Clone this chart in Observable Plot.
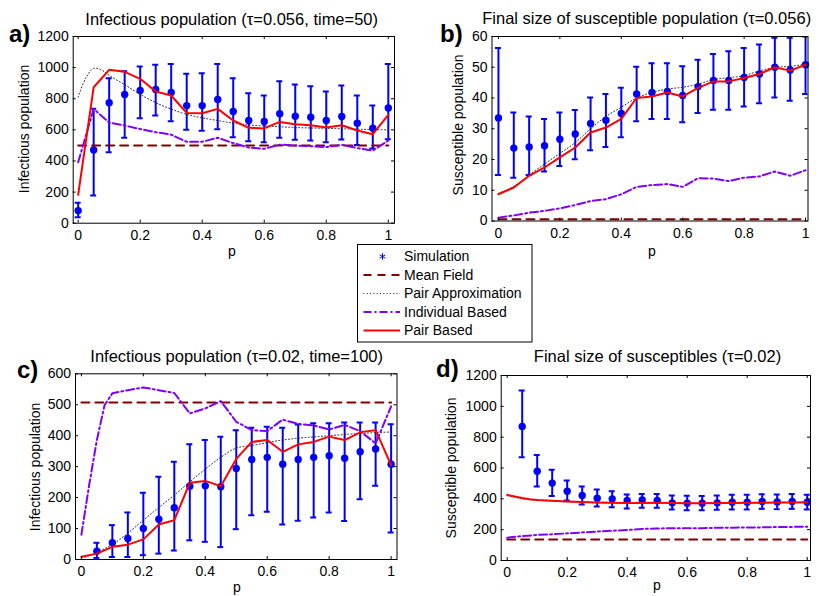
<!DOCTYPE html>
<html><head><meta charset="utf-8">
<script src="https://cdn.jsdelivr.net/npm/d3@7"></script>
<script src="https://cdn.jsdelivr.net/npm/@observablehq/plot@0.6"></script>
<style>
body{margin:0;background:#fff;}
#page{position:relative;width:819px;height:596px;overflow:hidden;background:#fff;font-family:"Liberation Sans",Arial,Helvetica,sans-serif;color:#000;}
.panel{position:absolute;}
.t{position:absolute;white-space:nowrap;line-height:1;}
</style></head>
<body><div id="page"></div>
<script>
// ---------- data ----------
const pVals = [0,0.05,0.1,0.15,0.2,0.25,0.3,0.35,0.4,0.45,0.5,0.55,0.6,0.65,0.7,0.75,0.8,0.85,0.9,0.95,1];
const pFine = [0,0.025,0.05,0.075,0.1,0.15,0.2,0.25,0.3,0.35,0.4,0.45,0.5,0.55,0.6,0.65,0.7,0.75,0.8,0.85,0.9,0.95,1];
const pEnds = [0,1];
const xTicks = [0,0.2,0.4,0.6,0.8,1];

// a) Infectious population (tau=0.056, time=50)
const simA = [81,471,774,827,853,859,840,756,756,795,718,660,654,703,688,681,660,686,643,611,741];
const simALo = [39,178,456,549,675,692,656,600,594,604,553,527,521,549,536,531,521,538,503,480,540];
const simAHi = [131,735,932,977,1007,1018,1024,960,964,1024,932,836,821,913,891,881,846,885,821,756,1024];
const meanFieldA = [500,500];
const pairApproxA = [810,935,995,985,950,890,828,775,733,700,677,660,643,632,625,620,615,612,610,607,604,602,600];
const individualA = [392,735,646,628,605,585,569,523,523,549,515,486,478,505,499,495,489,504,483,467,531];
const pairBasedA = [182,874,986,973,928,846,821,709,707,735,660,613,609,651,636,630,615,630,596,572,696];
const yTicksA = [0,200,400,600,800,1000,1200];

// b) Final size of susceptible population (tau=0.056)
const simB = [33.5,23.7,24.1,24.5,26.6,28.3,31.7,32.8,35,41.3,41.8,42.1,40.8,43.7,45.7,45.7,46.7,47.8,50,49.1,50.8];
const simBLo = [15,14.1,15,16.1,17.9,20.1,23,24.1,27.2,32.4,33.2,33.2,32.1,35.1,36.2,36.2,37.2,38.3,40.2,39.1,41.3];
const simBHi = [56.3,35.3,34,33.2,35.3,36.1,40.2,41.3,43.3,50.2,51.3,51.3,50.3,52.4,54.3,55.2,56.3,57.4,59.6,59.6,60];
const meanFieldB = [0.6,0.6];
const pairApproxB = [9,10,11.3,13,15,18.5,22,25.5,30,34,37,40,41.8,42.9,43.5,44.5,46,46.6,47.3,48.8,50,50.3,51];
const individualB = [1.1,1.8,2.7,3.3,4.1,5.2,6.5,7.1,8.7,11.1,11.7,12,11.1,13.9,13.8,13,14.1,14.5,16.1,14.7,16.5];
const pairBasedB = [8.7,10.9,14.7,17.4,20.7,23.9,28.8,30.4,33.2,40,40.5,41.8,40.5,43.3,45.4,45.4,46.5,47.8,50,48.9,50.8];
const yTicksB = [0,10,20,30,40,50,60];

// c) Infectious population (tau=0.02, time=100)
const simC = [null,27,54,68,100,130,167,237,238,235,294,323,330,308,323,330,335,327,348,357,308];
const simCLo = [null,5,8,8,14,19,29,62,57,40,98,143,154,113,125,136,152,124,195,238,87];
const simCHi = [null,54,111,152,216,267,316,372,386,397,418,426,429,426,436,440,440,443,443,443,437];
const meanFieldC = [507,507];
const pairApproxC = [5,12,22,35,48,85,127,168,208,251,292,330,360,368,378,386,392,396,400,404,407,410,412];
const individualC = [80,240,386,499,537,547,556,547,538,472,488,512,445,418,415,452,438,433,420,435,415,375,495];
const pairBasedC = [9,19,41,48,65,113,127,248,254,237,325,380,386,348,372,380,397,386,411,418,305];
const yTicksC = [0,100,200,300,400,500,600];

// d) Final size of susceptibles (tau=0.02)
const simD = [null,869,579,502,450,422,404,400,389,393,389,374,372,372,374,378,378,383,380,383,378];
const simDLo = [null,670,480,419,389,363,350,346,337,342,342,331,326,326,329,331,331,335,333,335,331];
const simDHi = [null,1103,685,588,519,480,461,450,428,432,432,422,420,418,421,426,426,430,428,431,426];
const meanFieldD = [137,137];
const pairApproxD = [420,410,400,394,390,385,380,377,374,372,371,371,371,371,371,371,372,372,373,374,375,376,377];
const individualD = [148,158,166,170,176,182,188,193,198,205,208,209,210,210,212,213,214,215,217,218,219];
const pairBasedD = [426,415,405,398,393,388,383,380,377,375,373,373,374,373,372,372,373,373,374,375,376,377,378];
const yTicksD = [0,200,400,600,800,1000,1200];

const legendLabels = ["Simulation","Mean Field","Pair Approximation","Individual Based","Pair Based"];

// ---------- styles ----------
const BLUE="#0000ff", DARKRED="#800000", PURPLE="#7f00ff", RED="#ff0000", DOTTED="#222";
const FONT = '"Liberation Sans", Arial, Helvetica, sans-serif';
const page = document.getElementById("page");

function series(ps, vs){ return ps.map((p,i)=>({p, v: vs[i]})); }

function panel(cfg){
  const {left, top, W, H, ml, mr, mt, mb, xd, yd, yt, sim, lo, hi, mf, pa, pap, ib, ibp, pb, pbp} = cfg;
  const fw = W-ml-mr, fh = H-mt-mb;
  const simRows = pVals.map((p,i)=>({p, m: sim[i], lo: lo[i], hi: hi[i]})).filter(d=>d.m!=null);
  const fig = Plot.plot({
    width: W, height: H, marginLeft: ml, marginRight: mr, marginTop: mt, marginBottom: mb,
    x: {domain: xd}, y: {domain: yd},
    style: {fontFamily: FONT, fontSize: "14px", background: "transparent", color: "#000", overflow: "visible"},
    marks: [
      Plot.ruleX(simRows, {x:"p", y1:"lo", y2:"hi", stroke: BLUE, strokeWidth: 2, clip: true}),
      Plot.ruleY(simRows, {y:"lo", x1:"p", x2:"p", insetLeft:-3, insetRight:-3, stroke: BLUE, strokeWidth: 2, clip: true}),
      Plot.ruleY(simRows, {y:"hi", x1:"p", x2:"p", insetLeft:-3, insetRight:-3, stroke: BLUE, strokeWidth: 2, clip: true}),
      Plot.dot(simRows, {x:"p", y:"m", r:3.7, fill: BLUE}),
      Plot.line(series(pEnds, mf), {x:"p", y:"v", stroke: DARKRED, strokeWidth: 2, strokeDasharray: "8,6"}),
      Plot.line(series(pap, pa), {x:"p", y:"v", stroke: DOTTED, strokeWidth: 1, strokeDasharray: "1,2.3", curve: "catmull-rom"}),
      Plot.line(series(ibp, ib), {x:"p", y:"v", stroke: PURPLE, strokeWidth: 2, strokeDasharray: "8,3,2,3"}),
      Plot.line(series(pbp, pb), {x:"p", y:"v", stroke: RED, strokeWidth: 2}),
      Plot.tickX(xTicks, {x: d=>d, insetTop: fh-3, stroke: "#000"}),
      Plot.tickX(xTicks, {x: d=>d, insetBottom: fh-3, stroke: "#000"}),
      Plot.tickY(yt, {y: d=>d, insetRight: fw-3, stroke: "#000"}),
      Plot.tickY(yt, {y: d=>d, insetLeft: fw-3, stroke: "#000"}),
      Plot.axisX({ticks: xTicks, tickSize: 0, tickPadding: 7, label: null, tickFormat: d=>String(d)}),
      Plot.axisY({ticks: yt, tickSize: 0, tickPadding: 4.5, label: null, tickFormat: d=>String(d)}),
      Plot.frame({stroke: "#000", strokeWidth: 1})
    ]
  });
  fig.classList.add("panel");
  fig.style.left = left+"px"; fig.style.top = top+"px";
  page.appendChild(fig);
}

panel({left:0, top:0, W:410, H:265, ml:72.7, mr:16, mt:36, mb:42.3, xd:[-0.016,1.02], yd:[0,1200], yt:yTicksA,
  sim:simA, lo:simALo, hi:simAHi, mf:meanFieldA, pa:pairApproxA, pap:pFine, ib:individualA, ibp:pVals, pb:pairBasedA, pbp:pVals});
panel({left:410, top:0, W:409, H:265, ml:81.5, mr:11.5, mt:36, mb:44.5, xd:[-0.021,1.008], yd:[0,60], yt:yTicksB,
  sim:simB, lo:simBLo, hi:simBHi, mf:meanFieldB, pa:pairApproxB, pap:pFine, ib:individualB, ibp:pVals, pb:pairBasedB, pbp:pVals});
panel({left:0, top:330, W:410, H:266, ml:75, mr:13.5, mt:43.3, mb:37, xd:[-0.019,1.019], yd:[0,600], yt:yTicksC,
  sim:simC, lo:simCLo, hi:simCHi, mf:meanFieldC, pa:pairApproxC, pap:pFine, ib:individualC, ibp:pFine, pb:pairBasedC, pbp:pVals});
panel({left:410, top:330, W:409, H:266, ml:90.7, mr:9, mt:45, mb:36, xd:[-0.02,1.011], yd:[0,1200], yt:yTicksD,
  sim:simD, lo:simDLo, hi:simDHi, mf:meanFieldD, pa:pairApproxD, pap:pFine, ib:individualD, ibp:pVals, pb:pairBasedD, pbp:pFine});

// ---------- texts ----------
function addText(txt, x, y, {size=14, weight="normal", anchor="middle", rotate=0}={}){
  const d = document.createElement("div");
  d.className = "t";
  d.textContent = txt;
  d.style.fontSize = size+"px";
  d.style.fontWeight = weight;
  d.style.left = x+"px"; d.style.top = y+"px";
  const tx = anchor==="middle" ? "-50%" : "0";
  d.style.transform = `translate(${tx},-50%)`;
  if (rotate) d.style.transform = `translate(-50%,-50%) rotate(${rotate}deg)`;
  page.appendChild(d);
}
// titles
addText("Infectious population (\u03c4=0.056, time=50)", 231.7, 18.5, {size:16.5});
addText("Final size of susceptible population (\u03c4=0.056)", 646.7, 17.5, {size:16.5});
addText("Infectious population (\u03c4=0.02, time=100)", 236.7, 356.2, {size:16.5});
addText("Final size of susceptibles (\u03c4=0.02)", 657.5, 356.2, {size:16.5});
// panel letters
addText("a)", 9, 34.4, {size:24, weight:"bold", anchor:"start"});
addText("b)", 440, 34.4, {size:24, weight:"bold", anchor:"start"});
addText("c)", 17, 370.4, {size:24, weight:"bold", anchor:"start"});
addText("d)", 436, 369.4, {size:24, weight:"bold", anchor:"start"});
// x labels
addText("p", 232, 250.5);
addText("p", 652, 250.5);
addText("p", 237, 587);
addText("p", 657, 585);
// y labels
addText("Infectious population", 23.7, 129.2, {rotate:-90});
addText("Susceptible population", 457.8, 125, {rotate:-90});
addText("Infectious population", 34.6, 466.7, {rotate:-90});
addText("Susceptible population", 451.2, 468.3, {rotate:-90});

// ---------- legend ----------
const lg = d3.select(page).append("svg")
  .attr("width", 176).attr("height", 99)
  .style("position","absolute").style("left","357px").style("top","243.5px");
lg.append("rect").attr("x",0.5).attr("y",0.5).attr("width",174.5).attr("height",97.5)
  .attr("fill","#fff").attr("stroke","#000").attr("stroke-width",1);
const rowY = k => 12.5 + 18.5*k;
lg.append("path").attr("d", d3.symbol(d3.symbolAsterisk, 30)())
  .attr("transform",`translate(25.5,${rowY(0)})`).attr("fill","none").attr("stroke",BLUE).attr("stroke-width",1);
const lstyles = [null,
  {stroke:DARKRED, w:2, dash:"8,6"},
  {stroke:DOTTED, w:1, dash:"1,2.3"},
  {stroke:PURPLE, w:2, dash:"8,3,2,3"},
  {stroke:RED, w:2, dash:null}];
lstyles.forEach((s,k)=>{
  if(!s) return;
  lg.append("line").attr("x1",6.5).attr("x2",43).attr("y1",rowY(k)).attr("y2",rowY(k))
    .attr("stroke",s.stroke).attr("stroke-width",s.w).attr("stroke-dasharray",s.dash);
});
legendLabels.forEach((t,k)=>{
  lg.append("text").attr("x",47).attr("y",rowY(k)+4.9).attr("font-family",FONT).attr("font-size",14).text(t);
});
</script>
</body></html>
